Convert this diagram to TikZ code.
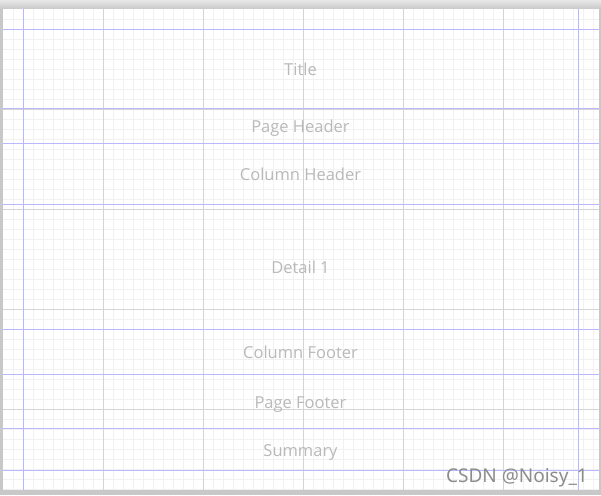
\documentclass[tikz,border=0pt]{standalone}
\usepackage{fontspec}
\setmainfont{Open Sans}
\newfontfamily\wmfont{Noto Sans}
\definecolor{bgshade}{RGB}{200,200,200}
\definecolor{bgtop}{RGB}{232,232,232}
\definecolor{minorc}{RGB}{241,241,243}
\definecolor{majorc}{RGB}{212,212,212}
\definecolor{bandc}{RGB}{184,184,255}
\definecolor{labelc}{RGB}{185,185,185}
\definecolor{wmc}{RGB}{140,140,140}
\tikzset{
  minorline/.style={draw=minorc, line width=1pt},
  majorline/.style={draw=majorc, line width=1pt},
  bandline/.style={draw=bandc, line width=1pt},
  bandlabel/.style={text=labelc, font=\fontsize{16.5}{19}\selectfont, anchor=base, inner sep=0pt},
  watermark/.style={text=wmc, font=\wmfont\fontsize{19}{22}\selectfont, anchor=base east, inner sep=0pt}
}
\begin{document}
\begin{tikzpicture}[x=1pt, y=-1pt]
\useasboundingbox (0,0) rectangle (601,495);
% background / shadow
\fill[bgshade] (0,0) rectangle (601,495);
\shade[top color=bgtop, bottom color=bgshade] (0,0) rectangle (601,9);
% page
\fill[white] (3,9) rectangle (598.5,490);
% minor grid
\foreach \i in {1,...,59} { \draw[minorline] (3.3+10*\i,9) -- (3.3+10*\i,490); }
\foreach \j in {1,...,48} { \draw[minorline] (3,9.3+10*\j) -- (598.5,9.3+10*\j); }
% major grid
\foreach \i in {103.3,203.3,303.3,403.3,503.3} { \draw[majorline] (\i,9) -- (\i,490); }
\foreach \j in {109.3,209.3,309.3,409.3} { \draw[majorline] (3,\j) -- (598.5,\j); }
% margins and bands
\draw[bandline] (23.3,9) -- (23.3,490);
\draw[bandline] (578.3,9) -- (578.3,490);
\foreach \j in {29.3,108.3,143.3,204.3,329.3,374.3,428.3,470.3} { \draw[bandline] (3,\j) -- (598.5,\j); }
% labels
\node[bandlabel] (title) at (300.5,75.6) {Title};
\node[bandlabel] (pagehdr) at (300.5,132.6) {Page Header};
\node[bandlabel] (colhdr) at (300.5,180.6) {Column Header};
\node[bandlabel] (detail) at (300.5,273.6) {Detail 1};
\node[bandlabel] (colftr) at (300.5,358.6) {Column Footer};
\node[bandlabel] (pageftr) at (300.5,408.1) {Page Footer};
\node[bandlabel] (summary) at (300.5,456.1) {Summary};
% watermark
\node[watermark] (wm) at (588,482) {CSDN @Noisy\_1};
\end{tikzpicture}
\end{document}
